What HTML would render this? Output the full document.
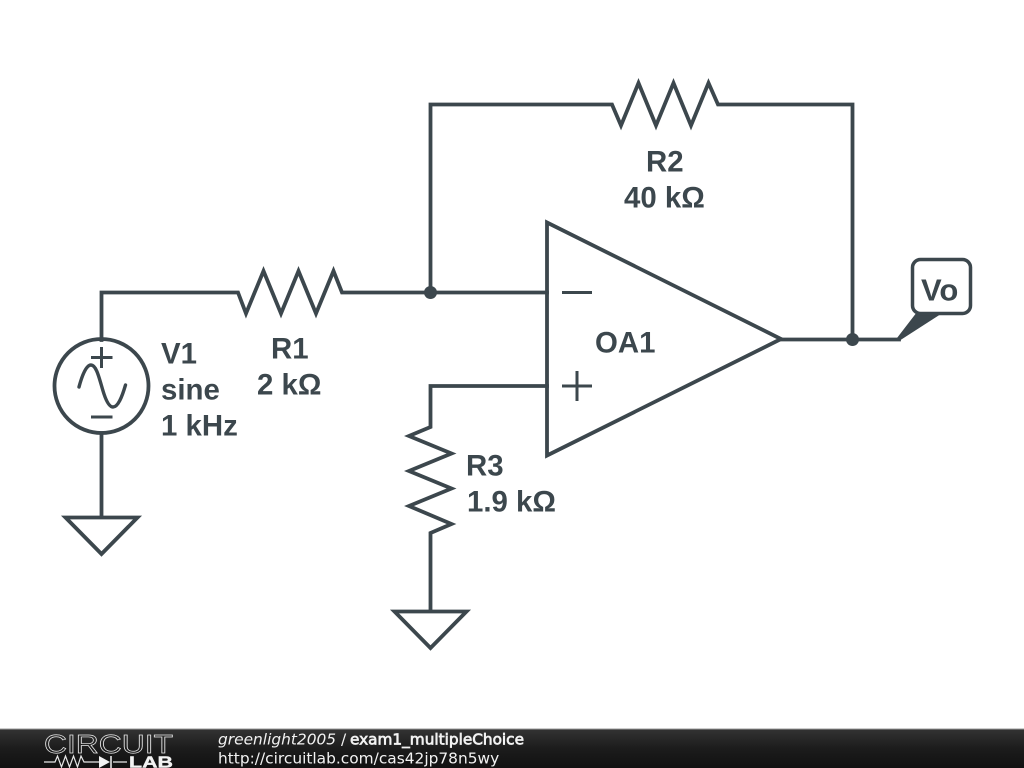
<!DOCTYPE html>
<html>
<head>
<meta charset="utf-8">
<style>
html,body{margin:0;padding:0;background:#fff;width:1024px;height:768px;overflow:hidden}
svg{display:block}
.w{fill:none;stroke:#3c474d;stroke-width:3.800;stroke-linejoin:miter;stroke-linecap:square}
.t{font-family:"Liberation Sans",sans-serif;font-weight:bold;font-size:29.400px;fill:#3c474d}
.f{font-family:"DejaVu Sans",sans-serif;font-size:15.400px;fill:#f2f2f2}
</style>
</head>
<body>
<svg width="1024" height="768" viewBox="0 0 1024 768" xmlns="http://www.w3.org/2000/svg">
<defs>
<linearGradient id="g" x1="0" y1="0" x2="0" y2="1">
<stop offset="0" stop-color="#333"/>
<stop offset="0.5" stop-color="#1c1c1c"/>
<stop offset="1" stop-color="#111"/>
</linearGradient>
</defs>
<rect width="1024" height="768" fill="#fff"/>

<!-- wires -->
<path class="w" d="M101.500 340V292.500H238L246 313.500L263.500 271L281 313.500L298.500 271L316 313.500L333.500 271L342 292.500H547"/>
<path class="w" d="M430.500 292V104.500H612L621 125.500L638.500 83L656 125.500L673.500 83L691 125.500L708.500 83L718 104.500H852.500V339"/>
<path class="w" d="M547 386H430.500V427L409 436L451.500 453.500L409 471L451.500 488.500L409 506L451.500 524L430.500 533V611"/>
<path class="w" d="M781 339.500H899"/>
<path class="w" d="M101.500 433V517"/>

<!-- grounds -->
<path class="w" d="M65.500 517.500H137.500L101.500 554Z"/>
<path class="w" d="M394.500 611.500H466.500L430.500 648Z"/>

<!-- source -->
<circle class="w" cx="101.500" cy="386" r="47"/>
<path d="M79 387C83 372 87 365 91 365C97 365 100 382 104 394C107 403 110 407 113 407C118 407 122 397 125.500 385" fill="none" stroke="#3c474d" stroke-width="3.400" stroke-linecap="round"/>
<path d="M91 357.500H112.500M101.500 347V368M91 417H112.500" fill="none" stroke="#3c474d" stroke-width="3"/>

<!-- op amp -->
<path class="w" d="M547 222.500L781 339L547 455.500Z"/>
<path d="M562 292.500H592M562 386H592M577 371V401" fill="none" stroke="#3c474d" stroke-width="3"/>

<!-- nodes -->
<circle cx="430.500" cy="292.500" r="6.500" fill="#3c474d"/>
<circle cx="852.500" cy="339.500" r="6.500" fill="#3c474d"/>

<!-- Vo tag -->
<path d="M897 338L917 312H944L899 341Z" fill="#3c474d"/>
<rect x="912.500" y="259.500" width="58" height="54" rx="8" ry="8" fill="#fff" stroke="#3c474d" stroke-width="3.500"/>

<!-- labels -->
<text class="t" x="921" y="300.500" style="font-size:31px">Vo</text>
<text class="t" x="595" y="352.500">OA1</text>
<text class="t" x="646" y="171.500">R2</text>
<text class="t" x="624" y="207.500">40 kΩ</text>
<text class="t" x="271" y="358.500">R1</text>
<text class="t" x="257" y="394.500">2 kΩ</text>
<text class="t" x="466" y="475.500">R3</text>
<text class="t" x="467" y="511.500">1.9 kΩ</text>
<text class="t" x="161" y="363.500">V1</text>
<text class="t" x="161" y="399.500">sine</text>
<text class="t" x="161" y="435.500">1 kHz</text>

<!-- footer -->
<rect x="0" y="729" width="1024" height="39" fill="url(#g)"/>
<rect x="0" y="728.500" width="1024" height="1" fill="#999"/>
<text x="44" y="753" font-family="'Liberation Sans',sans-serif" font-size="26" fill="none" stroke="#e6e6e6" stroke-width="0.700" textLength="129" lengthAdjust="spacingAndGlyphs">CIRCUIT</text>
<path d="M44 762H55L57.500 756L61.500 767L65.500 756L69.500 767L73.500 756L77.500 767L81 756L84 762H99M113 762H127" fill="none" stroke="#e6e6e6" stroke-width="1.200"/>
<path d="M99 756L110 762L99 768Z" fill="#f2f2f2"/>
<path d="M111 756V768" stroke="#f2f2f2" stroke-width="1.500"/>
<text x="129" y="767.500" font-family="'Liberation Sans',sans-serif" font-weight="bold" font-size="16" fill="#f2f2f2" stroke="#f2f2f2" stroke-width="0.400" textLength="44" lengthAdjust="spacingAndGlyphs">LAB</text>
<text class="f" x="218" y="744.500"><tspan font-style="italic">greenlight2005</tspan> / </text>
<text class="f" x="350" y="744.500" stroke="#f2f2f2" stroke-width="0.700" textLength="174" lengthAdjust="spacingAndGlyphs">exam1_multipleChoice</text>
<text class="f" x="218" y="763.500">http://circuitlab.com/cas42jp78n5wy</text>
</svg>
</body>
</html>
